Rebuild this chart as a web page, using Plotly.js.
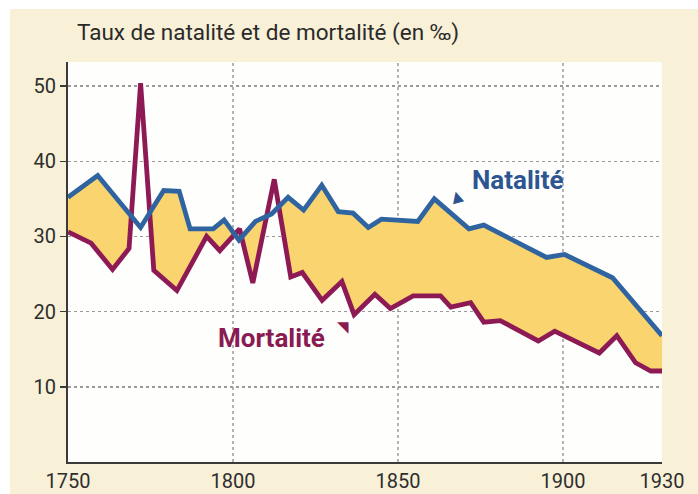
<!DOCTYPE html>
<html>
<head>
<meta charset="utf-8">
<script src="https://cdn.plot.ly/plotly-3.0.1.min.js"></script>
<style>html,body{margin:0;padding:0;background:#f8f0d7;}</style>
</head>
<body>
<div id="chart" style="width:698px;height:494px;"></div>
<script>
// Natalité (birth rate, per mille)
const natYears = [1750, 1759, 1772, 1779, 1783.7, 1787, 1794, 1797.3, 1801.8, 1806.8, 1811.7, 1816.7, 1821.4, 1826.9, 1831.9, 1836.4, 1841, 1845, 1856, 1861, 1871.5, 1876, 1895, 1900.5, 1915, 1930];
const natValues = [35.2, 38.1, 31.2, 36.1, 36.0, 31.0, 31.0, 32.2, 29.5, 32.0, 33.0, 35.2, 33.5, 36.8, 33.3, 33.1, 31.2, 32.3, 32.0, 35.0, 31.0, 31.5, 27.2, 27.6, 24.5, 16.8];
// Mortalité (death rate, per mille)
const morYears = [1750, 1757, 1763.5, 1768.5, 1772, 1776, 1783, 1792, 1796, 1802, 1806, 1812.5, 1817.5, 1821, 1827, 1833, 1836.7, 1843, 1847.7, 1854.6, 1862.9, 1866, 1872, 1876, 1881, 1892.5, 1897.5, 1911, 1916.3, 1922, 1926.6, 1930];
const morValues = [30.6, 29.1, 25.6, 28.4, 50.4, 25.5, 22.8, 30.0, 28.1, 31.0, 23.8, 37.6, 24.6, 25.2, 21.5, 24.0, 19.6, 22.3, 20.4, 22.1, 22.1, 20.6, 21.2, 18.6, 18.8, 16.1, 17.4, 14.5, 16.8, 13.2, 12.1, 12.1];
// Axis ticks
const xTickVals = [1750, 1800, 1850, 1900, 1930];
const xGridVals = [1800, 1850, 1900];
const yTickVals = [10, 20, 30, 40, 50];

const titleText = 'Taux de natalité et de mortalité (en ‰)';

function interp(xs, ys, x) {
  if (x <= xs[0]) return ys[0];
  for (let i = 1; i < xs.length; i++) {
    if (x <= xs[i]) {
      const t = (x - xs[i-1]) / (xs[i] - xs[i-1]);
      return ys[i-1] + t * (ys[i] - ys[i-1]);
    }
  }
  return ys[ys.length - 1];
}
// Build the fill band: between natalité and min(natalité, mortalité)
let xs = Array.from(new Set(natYears.concat(morYears))).sort((a,b)=>a-b);
let refined = [];
for (let i = 0; i < xs.length; i++) {
  if (i > 0) {
    const a = xs[i-1], b = xs[i];
    const da = interp(natYears, natValues, a) - interp(morYears, morValues, a);
    const db = interp(natYears, natValues, b) - interp(morYears, morValues, b);
    if (da * db < 0) refined.push(a + (b - a) * da / (da - db));
  }
  refined.push(xs[i]);
}
const bandUpper = refined.map(x => interp(natYears, natValues, x));
const bandLower = refined.map(x => Math.min(interp(natYears, natValues, x), interp(morYears, morValues, x)));

const traces = [
  {x: refined, y: bandLower, mode: 'lines', line: {width: 0, color: 'rgba(0,0,0,0)'}, hoverinfo: 'skip', showlegend: false},
  {x: refined, y: bandUpper, mode: 'lines', line: {width: 0, color: 'rgba(0,0,0,0)'}, fill: 'tonexty', fillcolor: '#f9d46f', hoverinfo: 'skip', showlegend: false},
  {x: morYears, y: morValues, mode: 'lines', name: 'Mortalité', line: {color: '#8e1a55', width: 4.8, shape: 'linear'}, showlegend: false},
  {x: natYears, y: natValues, mode: 'lines', name: 'Natalité', line: {color: '#2f64a0', width: 4.8}, showlegend: false}
];

const shapes = xGridVals.map(v => ({type: 'line', xref: 'x', yref: 'paper', x0: v, x1: v, y0: 0, y1: 1, layer: 'below', line: {color: '#9a9a9a', width: 1.5, dash: 'dot'}}));
// white outer border strips of the page
shapes.push({type: 'rect', xref: 'paper', yref: 'paper', x0: -0.2, x1: -0.0976, y0: -0.2, y1: 1.3, fillcolor: '#ffffff', line: {width: 0}});
shapes.push({type: 'rect', xref: 'paper', yref: 'paper', x0: -0.2, x1: 1.2, y0: 1.1325, y1: 1.3, fillcolor: '#ffffff', line: {width: 0}});

const layout = {
  width: 698, height: 494,
  margin: {l: 68, r: 36, t: 62, b: 32},
  paper_bgcolor: '#f8f0d7',
  plot_bgcolor: '#fefefc',
  showlegend: false,
  font: {family: 'Roboto, sans-serif', size: 20, color: '#2e2e2e'},
  xaxis: {
    range: [1750, 1930], tickmode: 'array', tickvals: xTickVals, ticktext: xTickVals.map(String),
    showgrid: false, zeroline: false, showline: true, linecolor: '#3a3a3a', linewidth: 2,
    ticks: '', tickfont: {family: 'Roboto, sans-serif', size: 20, color: '#2e2e2e'}, fixedrange: true
  },
  yaxis: {
    range: [0, 53.2], tickmode: 'array', tickvals: yTickVals,
    showgrid: true, gridcolor: '#9a9a9a', gridwidth: 1.5, griddash: 'dot', zeroline: false,
    showline: true, linecolor: '#3a3a3a', linewidth: 2,
    ticks: 'outside', ticklen: 6, tickwidth: 1.5, tickcolor: '#3a3a3a',
    tickfont: {family: 'Roboto, sans-serif', size: 20, color: '#2e2e2e'}, fixedrange: true
  },
  shapes: shapes,
  annotations: [
    {text: titleText, xref: 'paper', yref: 'paper', x: 0.0118, y: 1.073, xanchor: 'left', yanchor: 'middle', showarrow: false,
     font: {family: 'Roboto, sans-serif', size: 22.5, color: '#2a2a2a'}},
    {text: '<b>Natalité</b>', xref: 'x', yref: 'y', x: 1886.4, y: 37.5, xanchor: 'center', yanchor: 'middle', showarrow: false,
     font: {family: 'Roboto, sans-serif', size: 26, color: '#2d5592'}},
    {text: '▲', xref: 'x', yref: 'y', x: 1868, y: 35.4, showarrow: false, textangle: -15,
     font: {family: 'DejaVu Sans, sans-serif', size: 15, color: '#2d5592'}},
    {text: '<b>Mortalité</b>', xref: 'x', yref: 'y', x: 1811.6, y: 16.5, xanchor: 'center', yanchor: 'middle', showarrow: false,
     font: {family: 'Roboto, sans-serif', size: 26, color: '#8a1a52'}},
    {text: '◥', xref: 'x', yref: 'y', x: 1833.2, y: 18.0, showarrow: false,
     font: {family: 'DejaVu Sans, sans-serif', size: 15, color: '#8a1a52'}}
  ]
};

Plotly.newPlot('chart', traces, layout, {displayModeBar: false, staticPlot: true});
</script>
</body>
</html>
